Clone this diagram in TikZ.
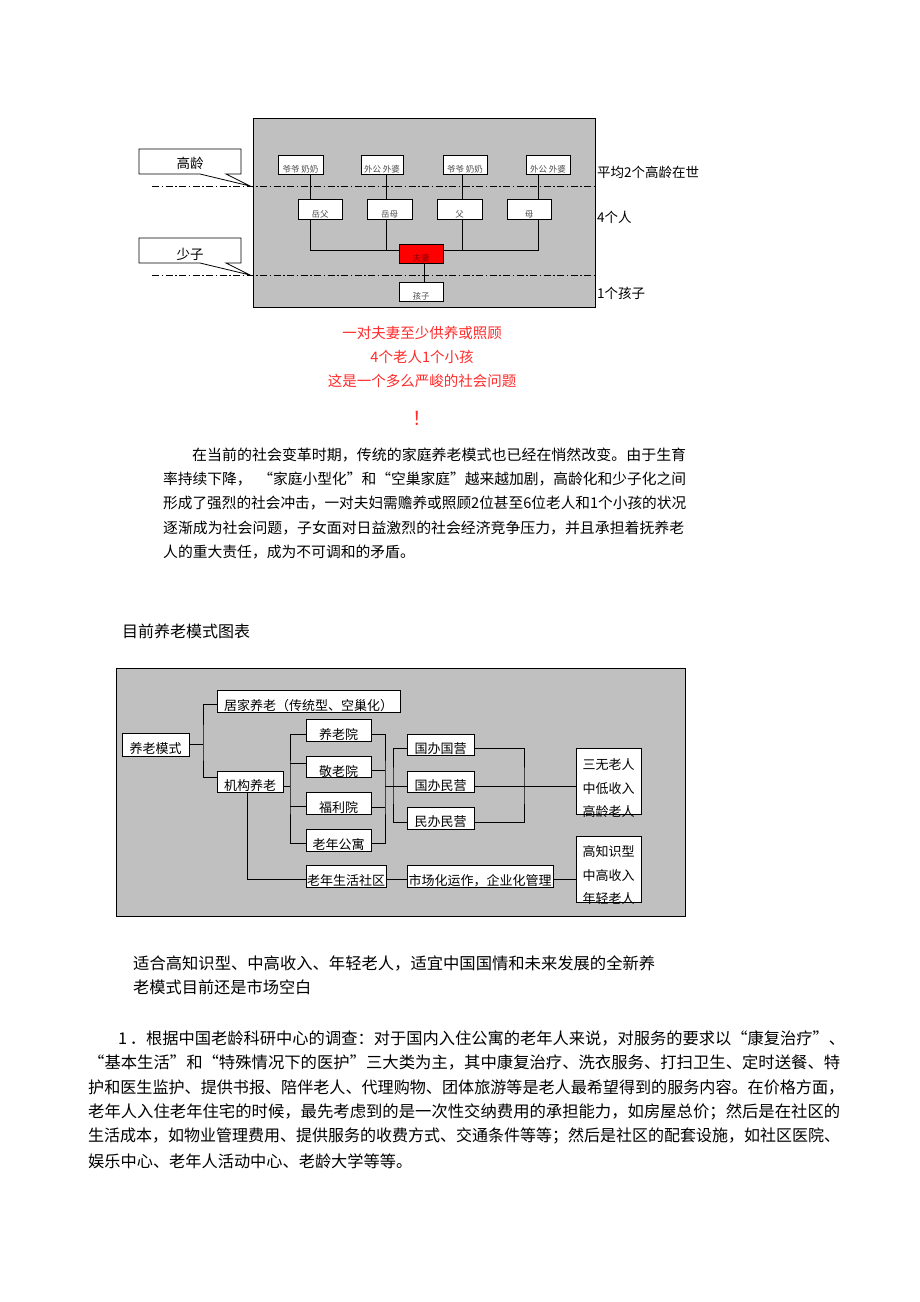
\documentclass[tikz,border=0pt]{standalone}
\usepackage{graphicx}
\usepackage{fontspec}
\setmainfont{Noto Sans CJK SC}
\definecolor{bggray}{HTML}{C0C0C0}
\definecolor{redtxt}{HTML}{FF2A2A}
\definecolor{boxred}{HTML}{FF0000}
\newcommand\ftS{\fontsize{8.5pt}{10pt}\selectfont}
\newcommand\ftC{\fontsize{13.5pt}{16pt}\selectfont}
\newcommand\ftR{\fontsize{14.5pt}{17pt}\selectfont}
\newcommand\ftP{\fontsize{14.8pt}{18pt}\selectfont}
\newcommand\ftB{\fontsize{16.2pt}{20pt}\selectfont}
\newcommand\ftD{\fontsize{13pt}{16pt}\selectfont}
\newcommand\ftE{\fontsize{13pt}{23.5pt}\selectfont}
\newcommand\lowtxt[2]{\raisebox{-#1}[\height][\depth]{#2}}
\newcommand\jl[2]{\resizebox{#1}{\height}{#2}}
\begin{document}
\begin{tikzpicture}[x=1pt,y=-1pt,
  box/.style={draw=black, fill=white, line width=0.8pt, inner sep=0pt},
  tbox/.style={box, font=\ftS, text=black!70},
  dbox/.style={box, font=\ftD},
  conn/.style={line width=0.8pt},
  dashdotline/.style={line width=0.8pt, dash pattern=on 7pt off 2.5pt on 1.5pt off 2.5pt},
  lbl/.style={inner sep=0pt, anchor=west},
]
\fill[white] (0,0) rectangle (920,1302);
\useasboundingbox (0,0) rectangle (920,1302);

% ---------- top diagram ----------
\draw[fill=bggray, line width=0.8pt] (253,118) rectangle (595,307);
\draw[fill=white, line width=0.8pt] (139,149) -- (241,149) -- (241,174) -- (226,174) -- (250,186) -- (200,174) -- (139,174) -- cycle;
\node[font=\ftC, inner sep=0pt] (gl) at (190,163) {高龄};
\draw[fill=white, line width=0.8pt] (139,238) -- (241,238) -- (241,263) -- (226,263) -- (250,275) -- (200,263) -- (139,263) -- cycle;
\node[font=\ftC, inner sep=0pt] (sz) at (190,254) {少子};
\draw[dashdotline] (152,186) -- (595,186);
\draw[dashdotline] (152,275) -- (595,275);

\node[tbox, minimum width=45pt, minimum height=19pt] (gp1) at (300.5,164.5) {\lowtxt{5pt}{爷爷 奶奶}};
\node[tbox, minimum width=42pt, minimum height=19pt] (gp2) at (382,164.5) {\lowtxt{5pt}{外公 外婆}};
\node[tbox, minimum width=44pt, minimum height=19pt] (gp3) at (465,164.5) {\lowtxt{5pt}{爷爷 奶奶}};
\node[tbox, minimum width=44pt, minimum height=19pt] (gp4) at (548,164.5) {\lowtxt{5pt}{外公 外婆}};
\node[tbox, minimum width=44pt, minimum height=20pt] (yf) at (320,209) {\lowtxt{5pt}{岳父}};
\node[tbox, minimum width=45pt, minimum height=20pt] (ym) at (389.5,209) {\lowtxt{5pt}{岳母}};
\node[tbox, minimum width=45pt, minimum height=20pt] (fu) at (459.5,209) {\lowtxt{5pt}{父}};
\node[tbox, minimum width=44pt, minimum height=20pt] (mu) at (529,209) {\lowtxt{5pt}{母}};
\node[box, fill=boxred, minimum width=44pt, minimum height=19pt, font=\ftS, text=black!45!red] (fq) at (421,253.5) {\lowtxt{5pt}{夫妻}};
\node[tbox, minimum width=44pt, minimum height=19pt] (hz) at (421,291.5) {\lowtxt{5pt}{孩子}};

\coordinate (jL) at (386,250);
\coordinate (jR) at (462,250);
\draw[conn] ([xshift=9.5pt]gp1.south) -- ([xshift=-10pt]yf.north);
\draw[conn] ([xshift=4pt]gp2.south) -- ([xshift=-3.5pt]ym.north);
\draw[conn] ([xshift=-3pt]gp3.south) -- ([xshift=2.5pt]fu.north);
\draw[conn] ([xshift=-10pt]gp4.south) -- ([xshift=9pt]mu.north);
\draw[conn] ([xshift=-10pt]yf.south) |- ([yshift=3.5pt]fq.west);
\draw[conn] ([xshift=-3.5pt]ym.south) -- (jL);
\draw[conn] ([xshift=2.5pt]fu.south) -- (jR);
\draw[conn] ([yshift=3.5pt]fq.east) -| ([xshift=9pt]mu.south);
\draw[conn] ([xshift=3pt]fq.south) -- ([xshift=3pt]hz.north);

\node[lbl, font=\ftC] (l1) at (597,172) {平均2个高龄在世};
\node[lbl, font=\ftC] (l2) at (597,217) {4个人};
\node[lbl, font=\ftC] (l3) at (597,293) {1个孩子};

% ---------- red text ----------
\node[font=\ftR, text=redtxt, inner sep=0pt] (r1) at (422,333) {一对夫妻至少供养或照顾};
\node[font=\ftR, text=redtxt, inner sep=0pt] (r2) at (422,357) {4个老人1个小孩};
\node[font=\ftR, text=redtxt, inner sep=0pt] (r3) at (422,381) {这是一个多么严峻的社会问题};
\node[font=\fontsize{19pt}{22pt}\selectfont, text=redtxt, inner sep=0pt] (r4) at (422,418) {！};

% ---------- paragraph 1 ----------
\node[lbl, font=\ftP] (p1) at (192,455) {\jl{494pt}{在当前的社会变革时期，传统的家庭养老模式也已经在悄然改变。由于生育}};
\node[lbl, font=\ftP] (p2) at (163,479) {\jl{523pt}{率持续下降，\ \ “家庭小型化”和“空巢家庭”越来越加剧，高龄化和少子化之间}};
\node[lbl, font=\ftP] (p3) at (163,503.5) {\jl{523pt}{形成了强烈的社会冲击，一对夫妇需赡养或照顾2位甚至6位老人和1个小孩的状况}};
\node[lbl, font=\ftP] (p4) at (163,528) {\jl{521pt}{逐渐成为社会问题，子女面对日益激烈的社会经济竞争压力，并且承担着抚养老}};
\node[lbl, font=\ftP] (p5) at (163,552) {人的重大责任，成为不可调和的矛盾。};

% ---------- title ----------
\node[lbl, font=\fontsize{16pt}{19pt}\selectfont] (t1) at (122,631) {目前养老模式图表};

% ---------- second diagram ----------
\draw[fill=bggray, line width=0.8pt] (116,668) rectangle (685,916);
\node[dbox, minimum width=67pt, minimum height=23pt] (ylms) at (155.5,744.5) {\lowtxt{4pt}{养老模式}};
\node[dbox, minimum width=183pt, minimum height=22pt] (jj) at (308.5,701) {\lowtxt{5pt}{居家养老（传统型、空巢化）}};
\node[dbox, minimum width=66pt, minimum height=21pt] (jg) at (250,781.5) {\lowtxt{4pt}{机构养老}};
\node[dbox, minimum width=65pt, minimum height=22pt] (yly) at (338.5,730) {\lowtxt{5pt}{养老院}};
\node[dbox, minimum width=65pt, minimum height=21pt] (jly) at (338.5,766.5) {\lowtxt{5pt}{敬老院}};
\node[dbox, minimum width=65pt, minimum height=22pt] (fly) at (338.5,803) {\lowtxt{5pt}{福利院}};
\node[dbox, minimum width=65pt, minimum height=22pt] (lngy) at (338.5,840) {\lowtxt{5pt}{老年公寓}};
\node[dbox, minimum width=80pt, minimum height=22pt] (sq) at (346,876) {\lowtxt{5pt}{老年生活社区}};
\node[dbox, minimum width=67pt, minimum height=21pt] (gbgy) at (440.5,744.5) {\lowtxt{4pt}{国办国营}};
\node[dbox, minimum width=67pt, minimum height=21pt] (gbmy) at (440.5,781.5) {\lowtxt{4pt}{国办民营}};
\node[dbox, minimum width=67pt, minimum height=22pt] (mbmy) at (440.5,818) {\lowtxt{4pt}{民办民营}};
\node[dbox, minimum width=146pt, minimum height=22pt] (sc) at (480,876) {\lowtxt{5pt}{市场化运作，企业化管理}};
\node[box, font=\ftE, minimum width=65pt, minimum height=66pt] (swl) at (608.5,781) {\raisebox{-10.5pt}[0pt][0pt]{\begin{tabular}{@{}c@{}}三无老人\\中低收入\\高龄老人\end{tabular}}};
\node[box, font=\ftE, minimum width=65pt, minimum height=66pt] (gzs) at (608.5,869) {\raisebox{-9.5pt}[0pt][0pt]{\begin{tabular}{@{}c@{}}高知识型\\中高收入\\年轻老人\end{tabular}}};

\coordinate (b1) at (203,744.5);
\coordinate (b2) at (290,786);
\coordinate (b3) at (385,786);
\coordinate (b4) at (393,786);
\coordinate (b5) at (524,786);
\draw[conn] (ylms.east) -- (b1);
\draw[conn] ([yshift=-3pt]jj.west) -| (b1) |- ([yshift=4.5pt]jg.west);
\draw[conn] ([yshift=-4.5pt]jg.east) -- (b2);
\draw[conn] ([yshift=-4pt]yly.west) -| (b2) |- ([yshift=-3pt]lngy.west);
\draw[conn] ([yshift=3.5pt]jly.west) -- ([yshift=3.5pt,xshift=-16pt]jly.west);
\draw[conn] ([yshift=-3pt]fly.west) -- ([yshift=-3pt,xshift=-16pt]fly.west);
\draw[conn] ([yshift=-4pt]yly.east) -| (b3) |- ([yshift=-3pt]lngy.east);
\draw[conn] ([yshift=-3.5pt]jly.east) -- ([yshift=-3.5pt,xshift=14pt]jly.east);
\draw[conn] ([yshift=-4pt]fly.east) -- ([yshift=-4pt,xshift=14pt]fly.east);
\draw[conn] (b3) -- (b4);
\draw[conn] ([yshift=-3.5pt]gbgy.west) -| (b4) |- ([yshift=-4pt]mbmy.west);
\draw[conn] (b4) -- ([yshift=-4.5pt]gbmy.west);
\draw[conn] ([yshift=-3.5pt]gbgy.east) -| (b5) |- ([yshift=-4pt]mbmy.east);
\draw[conn] ([yshift=-4.5pt]gbmy.east) -- ([yshift=-5pt]swl.west);
\draw[conn] ([xshift=-3pt]jg.south) |- ([yshift=-3pt]sq.west);
\draw[conn] ([yshift=-3pt]sq.east) -- ([yshift=-3pt]sc.west);
\draw[conn] ([yshift=-3pt]sc.east) -- ([yshift=-10pt]gzs.west);

% ---------- text below diagram ----------
\node[lbl, font=\ftB] (s1) at (133,963) {\jl{522pt}{适合高知识型、中高收入、年轻老人，适宜中国国情和未来发展的全新养}};
\node[lbl, font=\ftB] (s2) at (133,987) {老模式目前还是市场空白};

% ---------- bottom paragraph ----------
\node[lbl, font=\ftB] (q1) at (118,1038) {\jl{727pt}{1\,．根据中国老龄科研中心的调查：对于国内入住公寓的老年人来说，对服务的要求以“康复治疗”、}};
\node[lbl, font=\ftB] (q2) at (88,1062.6) {\jl{752pt}{“基本生活”和“特殊情况下的医护”三大类为主，其中康复治疗、洗衣服务、打扫卫生、定时送餐、特}};
\node[lbl, font=\ftB] (q3) at (88,1087.2) {\jl{756pt}{护和医生监护、提供书报、陪伴老人、代理购物、团体旅游等是老人最希望得到的服务内容。在价格方面，}};
\node[lbl, font=\ftB] (q4) at (88,1111.8) {\jl{752pt}{老年人入住老年住宅的时候，最先考虑到的是一次性交纳费用的承担能力，如房屋总价；然后是在社区的}};
\node[lbl, font=\ftB] (q5) at (88,1136.4) {\jl{752pt}{生活成本，如物业管理费用、提供服务的收费方式、交通条件等等；然后是社区的配套设施，如社区医院、}};
\node[lbl, font=\ftB] (q6) at (88,1161) {娱乐中心、老年人活动中心、老龄大学等等。};
\end{tikzpicture}
\end{document}
